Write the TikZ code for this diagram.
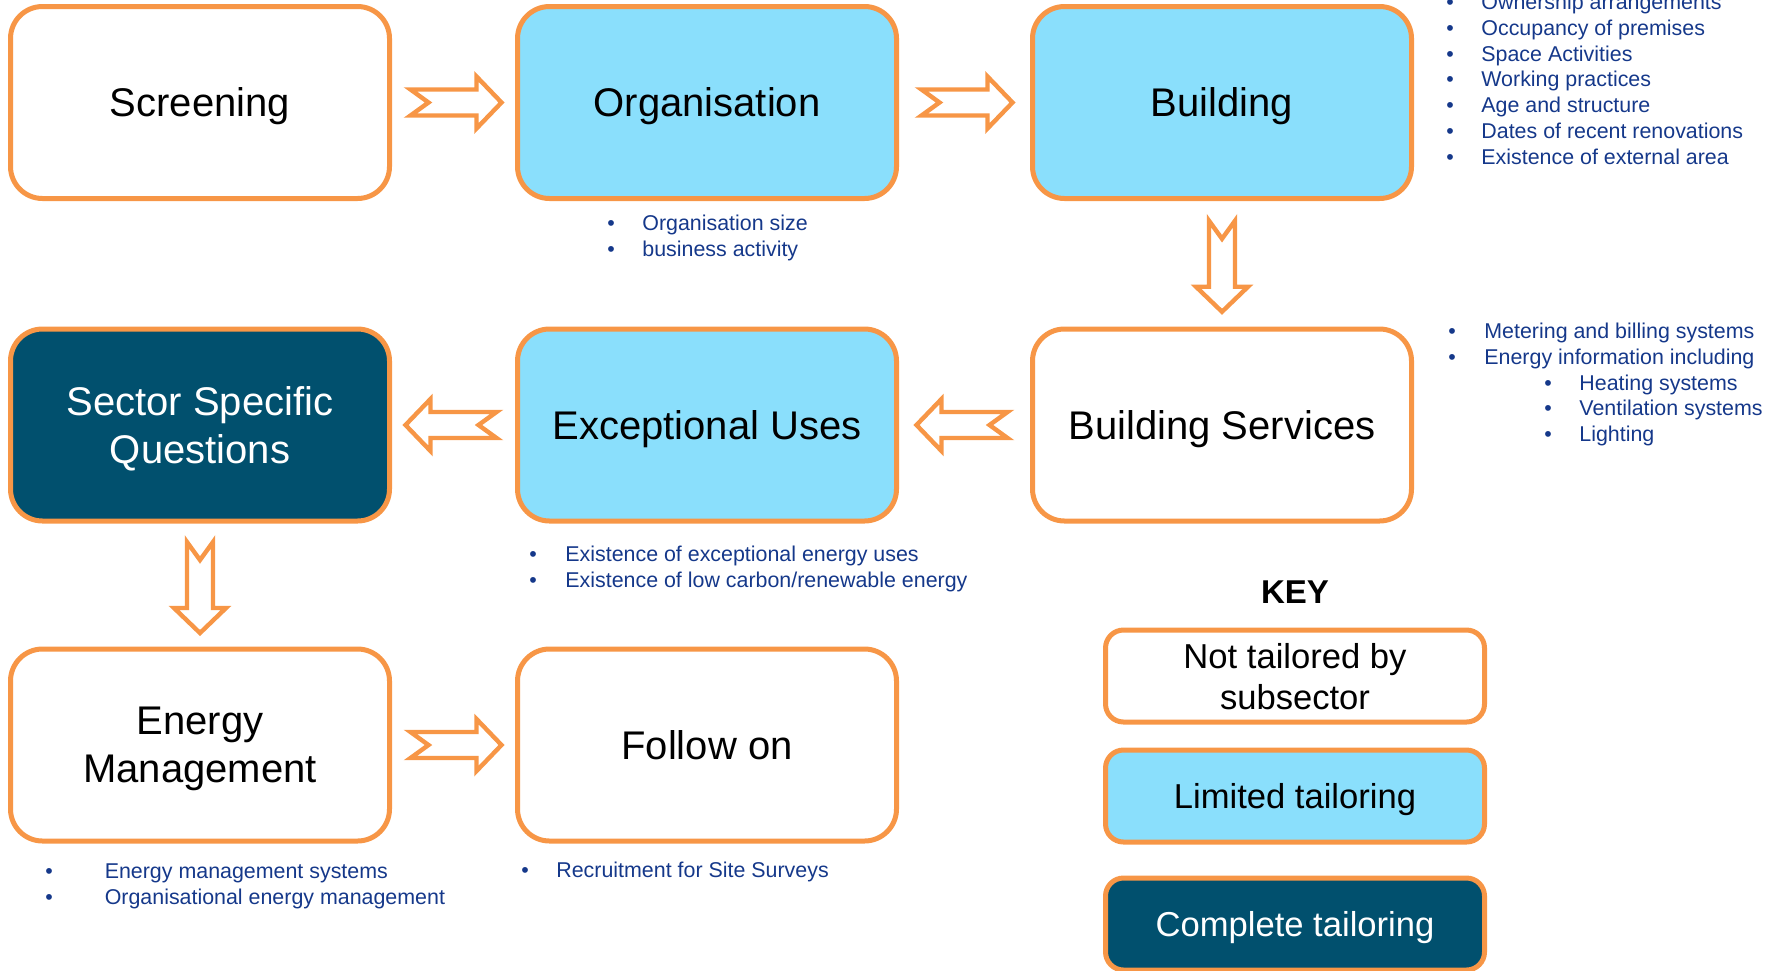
\documentclass[tikz,border=0pt]{standalone}
\usepackage{fontspec}
\setmainfont{Liberation Sans}
\usepackage{xcolor}
\usetikzlibrary{calc,
                positioning}

\definecolor{boxorange}{HTML}{F79646}
\definecolor{lightfill}{HTML}{8ADFFC}
\definecolor{darkfill}{HTML}{01506E}
\definecolor{listblue}{HTML}{15388A}

\tikzset{
  stage/.style={draw=boxorange, line width=2.5pt, rounded corners=16pt,
    minimum width=189.5pt, minimum height=96pt, align=center, text depth=0pt,
    font=\fontsize{20}{24}\selectfont, fill=white},
  limited/.style={stage, fill=lightfill},
  complete/.style={stage, fill=darkfill, text=white},
  keybox/.style={stage, rounded corners=9pt, minimum height=46pt,
    font=\fontsize{17.3}{20.5}\selectfont},
  fatarrow/.style={draw=boxorange, line width=2.2pt, fill=white, line join=miter},
  bullets/.style={text=listblue, font=\fontsize{10.7}{12.9}\selectfont,
    align=left, anchor=north west, inner sep=0pt},
}

\newcommand{\bitem}[2][17.5pt]{\makebox[#1][l]{\textbullet}#2}
\newcommand{\flowarrow}[3]{%
  \draw[fatarrow, shift={($(#1)!0.5!(#2)$)}, rotate=#3]
    (-43,-13) -- (23,-13) -- (23,-26) -- (48,0) -- (23,26)
    -- (23,13) -- (-43,13) -- (-25,0) -- cycle;}

\begin{document}
\begin{tikzpicture}[x=0.5pt,y=-0.5pt]
\useasboundingbox (0,0) rectangle (1781,970);

% stages
\node[stage]    (scr) at (200,102.5) {Screening};
\node[limited]  (org) at (707,102.5) {Organisation};
\node[limited]  (bld) at (1222,102.5) {Building};
\node[stage]    (bsv) at (1222,425) {Building Services};
\node[limited]  (exc) at (707,425) {Exceptional Uses};
\node[complete] (ssq) at (200,425) {Sector Specific\\Questions};
\node[stage]    (emg) at (200,745) {Energy\\Management};
\node[stage]    (fol) at (707,745) {Follow on};

\flowarrow{scr.east}{org.west}{0}
\flowarrow{org.east}{bld.west}{0}
\flowarrow{bld.south}{bsv.north}{-90}
\flowarrow{bsv.west}{exc.east}{180}
\flowarrow{exc.west}{ssq.east}{180}
\flowarrow{ssq.south}{emg.north}{-90}
\flowarrow{emg.east}{fol.west}{0}

% lists
\node[bullets] (orglist) at (607,214.5)
  {\bitem{Organisation size}\\ \bitem{business activity}};
\node[bullets] (bldlist) at (1446,-6.5)
  {\bitem{Ownership arrangements}\\ \bitem{Occupancy of premises}\\
   \bitem{Space Activities}\\ \bitem{Working practices}\\
   \bitem{Age and structure}\\ \bitem{Dates of recent renovations}\\
   \bitem{Existence of external area}};
\node[bullets] (bsvlist) at (1448,322.5)
  {\bitem[18pt]{Metering and billing systems}\\
   \bitem[18pt]{Energy information including}\\
   \hspace*{48pt}\bitem[17.5pt]{Heating systems}\\
   \hspace*{48pt}\bitem[17.5pt]{Ventilation systems}\\
   \hspace*{48pt}\bitem[17.5pt]{Lighting}};
\node[bullets] (exclist) at (529,545.5)
  {\bitem[18pt]{Existence of exceptional energy uses}\\
   \bitem[18pt]{Existence of low carbon/renewable energy}};
\node[bullets] (emglist) at (45,863.5)
  {\bitem[29.7pt]{Energy management systems}\\
   \bitem[29.7pt]{Organisational energy management}};
\node[bullets] (follist) at (521,861.5) {\bitem{Recruitment for Site Surveys}};

% key
\node[font=\bfseries\fontsize{16.5}{20}\selectfont] (key) at (1295,592) {KEY};
\node[keybox] (knot) at (1295,676) {Not tailored by\\subsector};
\node[keybox, fill=lightfill] (klim) at (1295,796) {Limited tailoring};
\node[keybox, fill=darkfill, text=white] (kcom) at (1295,924) {Complete tailoring};
\end{tikzpicture}
\end{document}
